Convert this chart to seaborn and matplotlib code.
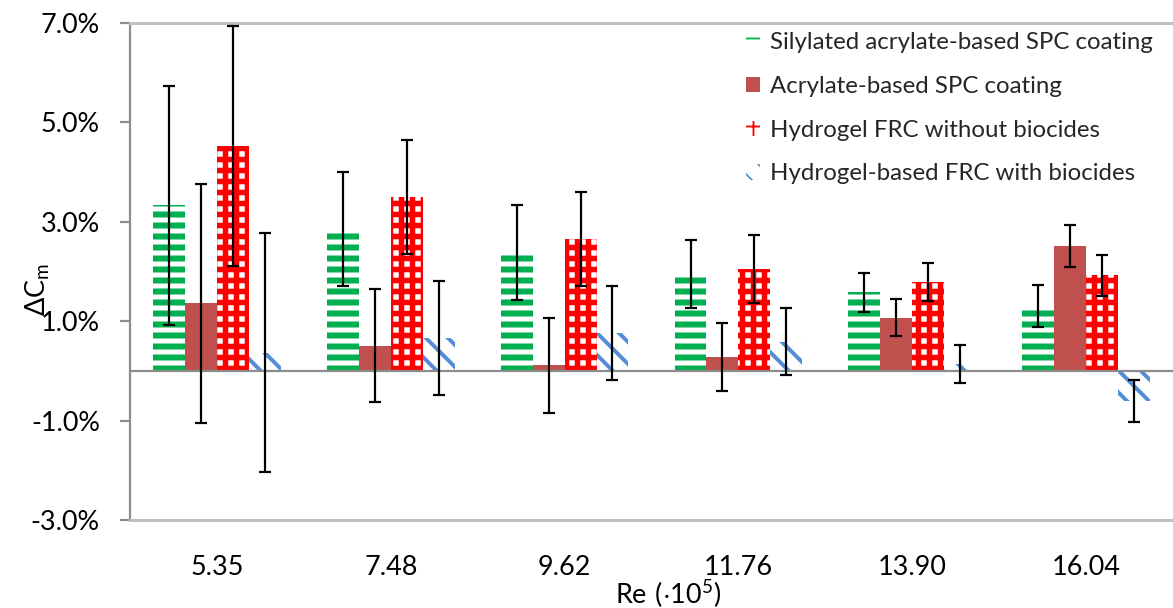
import numpy as np
import pandas as pd
import matplotlib
matplotlib.use("Agg")
import matplotlib.pyplot as plt
from matplotlib.ticker import FixedLocator, FuncFormatter
import seaborn as sns

# Reynolds numbers (x 10^5) of the towing runs
reynolds = ["5.35", "7.48", "9.62", "11.76", "13.90", "16.04"]

coatings = [
    "Silylated acrylate-based SPC coating",
    "Acrylate-based SPC coating",
    "Hydrogel FRC without biocides",
    "Hydrogel-based FRC with biocides",
]

# Change in frictional resistance coefficient, percent
silylated_spc = [3.33, 2.86, 2.38, 1.95, 1.58, 1.31]
acrylate_spc = [1.36, 0.51, 0.11, 0.28, 1.07, 2.52]
hydrogel_no_biocide = [4.53, 3.50, 2.65, 2.05, 1.79, 1.92]
hydrogel_biocide = [0.37, 0.66, 0.76, 0.59, 0.14, -0.60]

# Uncertainty (half-width of error bars), percent
silylated_spc_err = [2.40, 1.15, 0.95, 0.69, 0.385, 0.42]
acrylate_spc_err = [2.41, 1.14, 0.96, 0.69, 0.375, 0.42]
hydrogel_no_biocide_err = [2.41, 1.15, 0.95, 0.69, 0.38, 0.42]
hydrogel_biocide_err = [2.41, 1.15, 0.95, 0.68, 0.38, 0.42]

y_ticks = [-3.0, -1.0, 1.0, 3.0, 5.0, 7.0]

DPI = 132
W, H = 1173, 608


def pt(px):
    return px * 72.0 / DPI


sns.set_theme(style="white")
plt.rcParams["font.family"] = ["Lato", "DejaVu Sans"]
plt.rcParams["mathtext.fontset"] = "custom"
plt.rcParams["mathtext.rm"] = "Lato"

values = [silylated_spc, acrylate_spc, hydrogel_no_biocide, hydrogel_biocide]
errors = [silylated_spc_err, acrylate_spc_err, hydrogel_no_biocide_err, hydrogel_biocide_err]

df = pd.DataFrame({
    "Re": np.tile(reynolds, len(coatings)),
    "Coating": np.repeat(coatings, len(reynolds)),
    "dCm": np.concatenate(values),
})

green, brown, red, blue = "#00B050", "#C0504D", "#FF0000", "#558ED5"
palette = dict(zip(coatings, [green, brown, red, blue]))

fig = plt.figure(figsize=(W / DPI, H / DPI), dpi=DPI)
ax = fig.add_axes([130 / W, 1 - 520 / H, (W - 130) / W, 497 / H])

sns.barplot(data=df, x="Re", y="dCm", hue="Coating", order=reynolds,
            hue_order=coatings, palette=palette, width=0.735, saturation=1,
            errorbar=None, legend=False, linewidth=0, ax=ax, zorder=2)

# fill styles per series: (face, hatch colour, hatch, hatch line width px)
styles = [
    ("white", green, "--", 6.0),
    (brown, brown, None, 0.0),
    ("white", red, "++", 5.5),
    ("white", blue, "\\\\", 4.0),
]
for cont, (face, hcol, hatch, hlw) in zip(ax.containers, styles):
    for bar in cont.patches:
        bar.set_facecolor(face)
        bar.set_edgecolor(hcol)
        bar.set_linewidth(0)
        if hatch:
            bar.set_hatch(hatch)
            if hasattr(bar, "set_hatch_linewidth"):
                bar.set_hatch_linewidth(pt(hlw))

ax.axhline(0, color="#8C8C8C", lw=pt(2.2), zorder=3)

for cont, err in zip(ax.containers, errors):
    xs = [b.get_x() + b.get_width() / 2 for b in cont.patches]
    ys = [b.get_y() + b.get_height() for b in cont.patches]
    ax.errorbar(xs, ys, yerr=err, fmt="none", ecolor="black",
                elinewidth=pt(2.2), capsize=pt(6), capthick=pt(2.2), zorder=4)

ax.set_xlim(-0.5, len(reynolds) - 0.5)
ax.set_ylim(-3.0, 7.0)
ax.yaxis.set_major_locator(FixedLocator(y_ticks))
ax.yaxis.set_major_formatter(FuncFormatter(lambda v, _: f"{v:.1f}%"))

ax.spines["right"].set_visible(False)
ax.spines["left"].set_color("#8C8C8C")
ax.spines["left"].set_linewidth(pt(2.2))
for side in ["top", "bottom"]:
    ax.spines[side].set_color("#BFBFBF")
    ax.spines[side].set_linewidth(pt(3))

ax.tick_params(axis="y", which="major", left=True, length=pt(10), width=pt(2.2),
               color="#8C8C8C", direction="out", pad=pt(20),
               labelsize=pt(27), labelcolor="black")
ax.tick_params(axis="x", which="major", bottom=False, pad=pt(24),
               labelsize=pt(27), labelcolor="black")

ax.set_xlabel(r"$\mathregular{Re\ (\cdot10^5)}$", fontsize=pt(27), color="black")
ax.set_ylabel(r"$\mathregular{ΔC_m}$", fontsize=pt(27), color="black")
ax.xaxis.set_label_coords((668 - 130) / (W - 130), (520 - 578) / 497)
ax.yaxis.set_label_coords((52 - 130) / (W - 130), (520 - 290) / 497)

ax.legend(ax.containers, coatings, loc="upper left",
          bbox_to_anchor=(746 / W, 1 - 32 / H), bbox_transform=fig.transFigure,
          frameon=False, fontsize=pt(24), handlelength=0.6, handleheight=0.6,
          handletextpad=0.42, labelspacing=0.95, borderaxespad=0, borderpad=0)

fig.savefig("out.png", dpi=DPI)
